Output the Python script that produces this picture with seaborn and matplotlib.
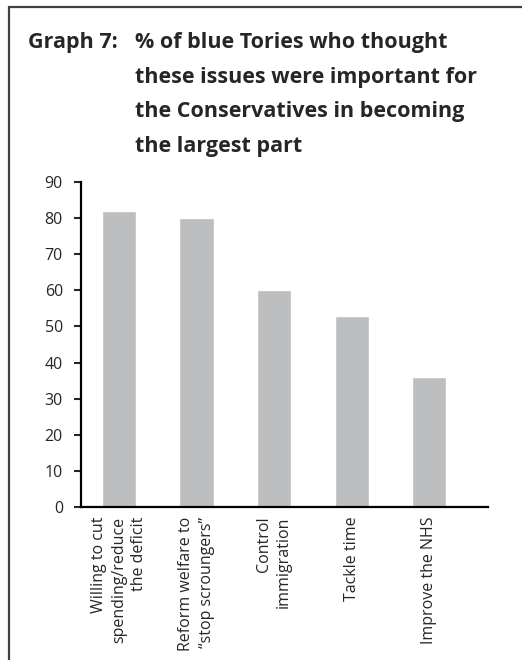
import matplotlib
matplotlib.use("Agg")
import matplotlib.pyplot as plt
from matplotlib.lines import Line2D
import pandas as pd
import seaborn as sns

# data
issues = [
    "Willing to cut\nspending/reduce\nthe deficit",
    "Reform welfare to\n\u201cstop scroungers\u201d",
    "Control\nimmigration",
    "Tackle time",
    "Improve the NHS",
]
pct = [82, 80, 60, 53, 36]
yticks = list(range(0, 100, 10))

title_head = "Graph 7:"
title_lines = [
    "% of blue Tories who thought",
    "these issues were important for",
    "the Conservatives in becoming",
    "the largest part",
]

sns.set_style("white")
plt.rcParams["font.family"] = ["Open Sans", "DejaVu Sans"]

W, H = 522, 660
fig = plt.figure(figsize=(W / 100, H / 100), dpi=100)
ax = fig.add_axes([81 / W, 1 - 507 / H, (488 - 81) / W, (507 - 182) / H])

df = pd.DataFrame({"issue": issues, "pct": pct})
sns.barplot(data=df, x="issue", y="pct", order=issues, color="#bdbec0",
            width=0.44, saturation=1, ax=ax)

ax.set_xlim(-0.49, 4.76)
ax.set_ylim(0, 90)
ax.set_yticks(yticks)
ax.set_yticklabels([str(v) for v in yticks], fontsize=11.5)
ax.set_xlabel("")
ax.set_ylabel("")
ax.set_xticks(range(len(issues)))
ax.set_xticklabels(issues, rotation=90, fontsize=11.5, ha="center", va="top",
                   multialignment="right", linespacing=1.35)
ax.tick_params(axis="y", direction="out", length=5, width=1.5, pad=8, left=True)
ax.tick_params(axis="x", length=0, pad=7)
for side in ["top", "right"]:
    ax.spines[side].set_visible(False)
for side in ["left", "bottom"]:
    ax.spines[side].set_color("black")
    ax.spines[side].set_linewidth(1.6)

# title block
fig.text(28 / W, 1 - 48 / H, title_head, fontsize=15.5, fontweight="bold",
         va="baseline", ha="left")
for i, line in enumerate(title_lines):
    fig.text(135 / W, 1 - (48 + i * 34.7) / H, line, fontsize=15.5,
             fontweight="bold", va="baseline", ha="left")

# panel frame (top and left edges)
fig.add_artist(Line2D([8.5 / W, 1], [1 - 6.5 / H, 1 - 6.5 / H],
                      transform=fig.transFigure, color="#404040", lw=1.6))
fig.add_artist(Line2D([8.5 / W, 8.5 / W], [0, 1 - 6.5 / H],
                      transform=fig.transFigure, color="#404040", lw=1.6))

fig.savefig("out.png", dpi=100)
